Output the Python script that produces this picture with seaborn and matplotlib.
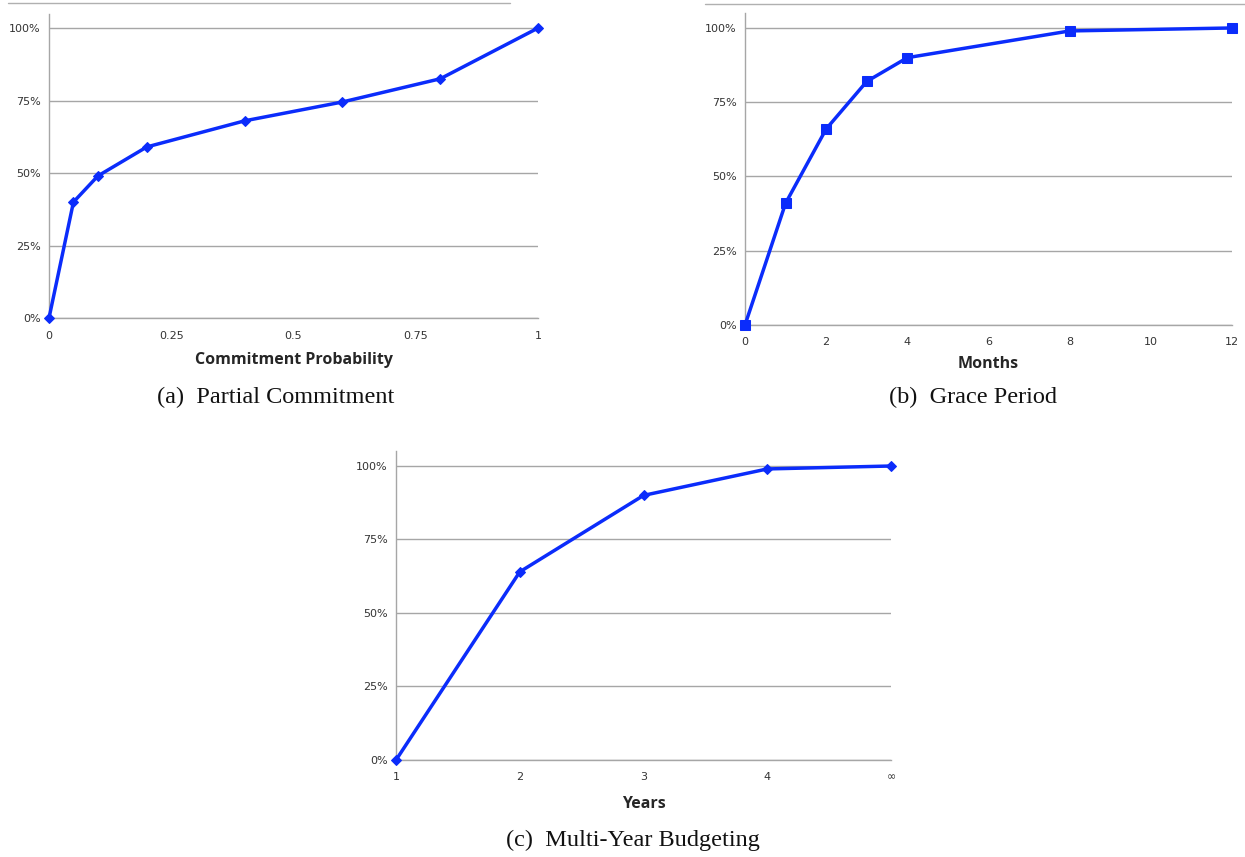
import matplotlib
matplotlib.use("Agg")
import matplotlib.pyplot as plt
from matplotlib.lines import Line2D
from matplotlib.ticker import PercentFormatter
import seaborn as sns
import pandas as pd

# (a) Partial Commitment
commit_prob = [0.0, 0.05, 0.1, 0.2, 0.4, 0.6, 0.8, 1.0]
commit_share = [0.0, 0.40, 0.49, 0.59, 0.68, 0.745, 0.825, 1.0]
commit_ticks = [0, 0.25, 0.5, 0.75, 1]
commit_ticklabels = ["0", "0.25", "0.5", "0.75", "1"]

# (b) Grace Period
grace_months = [0, 1, 2, 3, 4, 8, 12]
grace_share = [0.0, 0.41, 0.66, 0.82, 0.90, 0.99, 1.0]
grace_ticks = [0, 2, 4, 6, 8, 10, 12]

# (c) Multi-Year Budgeting
budget_years = ["1", "2", "3", "4", "\u221e"]
budget_share = [0.0, 0.64, 0.90, 0.99, 1.0]

sns.set_theme(style="white")
plt.rcParams["font.family"] = ["DejaVu Sans"]

BLUE = "#0b2cfb"
GRID = "#a6a6a6"
TICK_C = "#333333"

fig = plt.figure(figsize=(12.45, 8.57), dpi=100)

ax_a = fig.add_axes([0.03936, 0.6289, 0.3928, 0.3553])
ax_b = fig.add_axes([0.5984, 0.6208, 0.3912, 0.3639])
ax_c = fig.add_axes([0.3181, 0.1132, 0.3976, 0.3602])


def style_axis(ax):
    ax.set_ylim(0, 1.05)
    ax.set_yticks([0, 0.25, 0.5, 0.75, 1.0])
    ax.yaxis.set_major_formatter(PercentFormatter(1.0, decimals=0))
    ax.grid(axis="y", color=GRID, linewidth=1.0)
    ax.grid(axis="x", visible=False)
    for side in ("top", "right"):
        ax.spines[side].set_visible(False)
    for side in ("left", "bottom"):
        ax.spines[side].set_color(GRID)
        ax.spines[side].set_linewidth(1.0)
    ax.tick_params(axis="x", which="major", direction="out", length=4,
                   width=1.0, color=GRID, labelsize=8, labelcolor=TICK_C, pad=5)
    ax.tick_params(axis="y", which="major", length=0, labelsize=8,
                   labelcolor=TICK_C, pad=6)
    ax.set_ylabel("")


line_kw = dict(color=BLUE, linewidth=2.5, markeredgecolor=BLUE,
               clip_on=False, zorder=5)

df_a = pd.DataFrame({"p": commit_prob, "share": commit_share})
sns.lineplot(data=df_a, x="p", y="share", ax=ax_a, marker="D",
             markersize=5.5, **line_kw)
ax_a.set_xlim(0, 1)
ax_a.set_xticks(commit_ticks)
ax_a.set_xticklabels(commit_ticklabels)
style_axis(ax_a)
ax_a.set_xlabel("Commitment Probability", fontsize=11.5, fontweight="bold",
                labelpad=8, family="Open Sans")

df_b = pd.DataFrame({"m": grace_months, "share": grace_share})
sns.lineplot(data=df_b, x="m", y="share", ax=ax_b, marker="s",
             markersize=7, **line_kw)
ax_b.set_xlim(0, 12)
ax_b.set_xticks(grace_ticks)
style_axis(ax_b)
ax_b.set_xlabel("Months", fontsize=11.5, fontweight="bold", labelpad=6,
                family="Open Sans")

df_c = pd.DataFrame({"pos": range(len(budget_years)), "share": budget_share})
sns.lineplot(data=df_c, x="pos", y="share", ax=ax_c, marker="D",
             markersize=5.5, **line_kw)
ax_c.set_xlim(0, len(budget_years) - 1)
ax_c.set_xticks(range(len(budget_years)))
ax_c.set_xticklabels(budget_years)
style_axis(ax_c)
ax_c.set_xlabel("Years", fontsize=11.5, fontweight="bold", labelpad=10,
                family="Open Sans")

# sub-figure captions
cap_kw = dict(ha="center", va="center", fontsize=17.5,
              family="Liberation Serif", color="#111111")
fig.text(276 / 1245, 1 - 397 / 857, "(a)  Partial Commitment", **cap_kw)
fig.text(973 / 1245, 1 - 397 / 857, "(b)  Grace Period", **cap_kw)
fig.text(633 / 1245, 1 - 840 / 857, "(c)  Multi-Year Budgeting", **cap_kw)

# thin rules along the top edge
fig.add_artist(Line2D([8 / 1245, 510 / 1245], [1 - 3 / 857, 1 - 3 / 857],
                      color="#b0b0b0", linewidth=1.0))
fig.add_artist(Line2D([705 / 1245, 1245 / 1245], [1 - 4 / 857, 1 - 4 / 857],
                      color="#b0b0b0", linewidth=1.0))

fig.savefig("out.png", dpi=100, facecolor="white")
